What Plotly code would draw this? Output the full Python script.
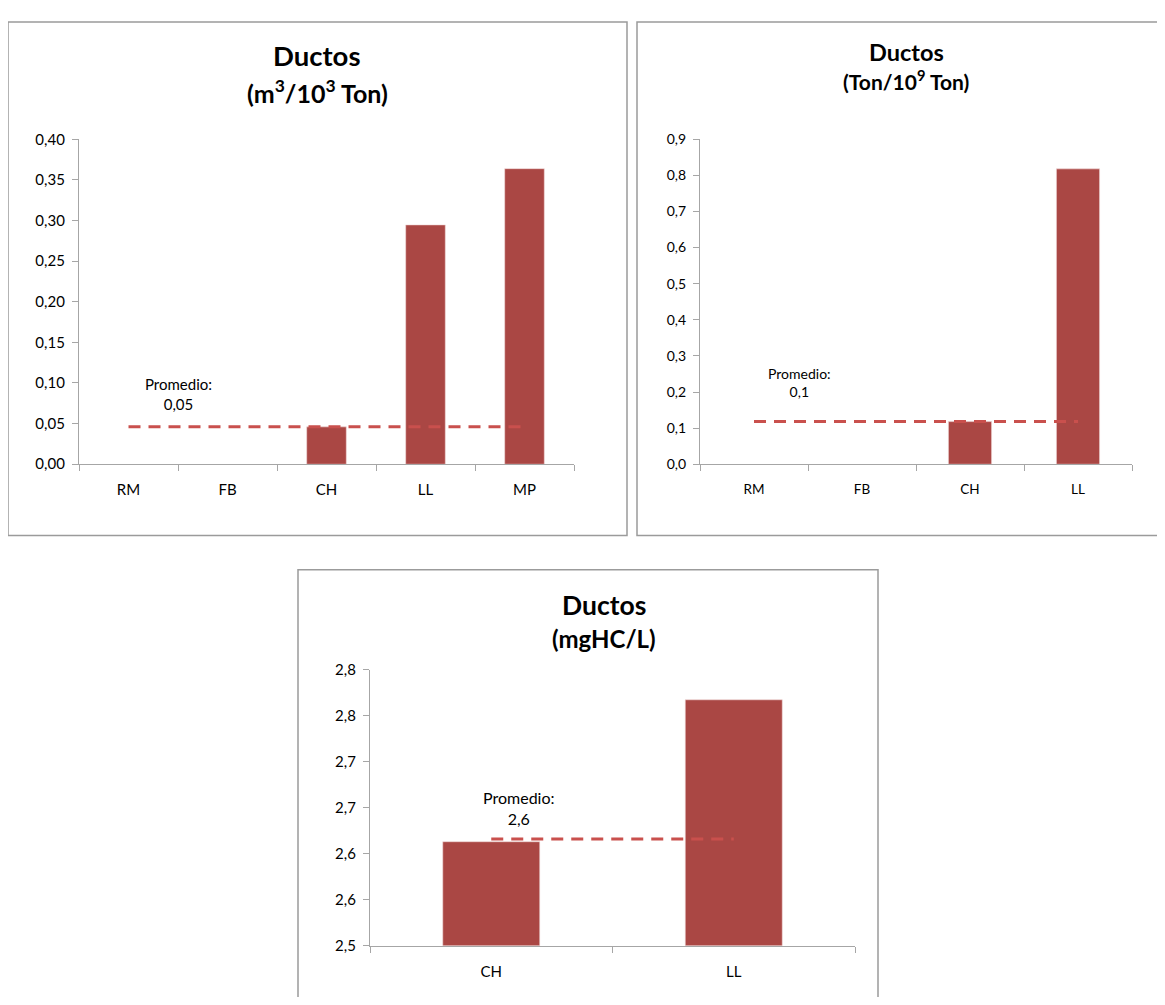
import plotly.graph_objects as go

# ---------------- data ----------------
cats1 = ["RM", "FB", "CH", "LL", "MP"]
vals1 = [None, None, 0.046, 0.2946, 0.3638]
avg1 = 0.046
avg1_label = "0,05"

cats2 = ["RM", "FB", "CH", "LL"]
vals2 = [None, None, 0.118, 0.818]
avg2 = 0.118
avg2_label = "0,1"

cats3 = ["CH", "LL"]
vals3 = [2.613, 2.7675]
avg3 = 2.616
avg3_label = "2,6"
ticks3_vals = [2.50, 2.55, 2.60, 2.65, 2.70, 2.75, 2.80]
ticks3_text = ["2,5", "2,6", "2,6", "2,7", "2,7", "2,8", "2,8"]

title1 = "<b>Ductos</b>"
sub1 = "<b>(m<sup>3</sup>/10<sup>3</sup> Ton)</b>"
title2 = "<b>Ductos</b>"
sub2 = "<b>(Ton/10<sup>9</sup> Ton)</b>"
title3 = "<b>Ductos</b>"
sub3 = "<b>(mgHC/L)</b>"

# ---------------- style ----------------
OFF = 8  # default body margin of the html page
W, H = 1165 - 2 * OFF, 1005 - 2 * OFF
FONT = "Lato"
BAR = "#AA4744"
AVG = "#C9504D"
AX = "#A6A6A6"


def px(x):
    return (x - OFF) / W


def py(y):
    return 1 - (y - OFF) / H


fig = go.Figure()

bar_marker = dict(color=BAR, line=dict(color="#F2DCDB", width=0.6))
avg_line = dict(color=AVG, width=3, dash="12px,8px")

fig.add_trace(go.Bar(x=cats1, y=vals1, marker=bar_marker, xaxis="x", yaxis="y"))
fig.add_trace(go.Scatter(x=[cats1[0], cats1[-1]], y=[avg1, avg1], mode="lines", line=avg_line,
                         xaxis="x", yaxis="y"))
fig.add_trace(go.Bar(x=cats2, y=vals2, marker=bar_marker, xaxis="x2", yaxis="y2"))
fig.add_trace(go.Scatter(x=[cats2[0], cats2[-1]], y=[avg2, avg2], mode="lines", line=avg_line,
                         xaxis="x2", yaxis="y2"))
fig.add_trace(go.Bar(x=cats3, y=vals3, marker=bar_marker, xaxis="x3", yaxis="y3"))
fig.add_trace(go.Scatter(x=[cats3[0], cats3[-1]], y=[avg3, avg3], mode="lines", line=avg_line,
                         xaxis="x3", yaxis="y3"))


def xax(domain, anchor, size):
    return dict(domain=domain, anchor=anchor, type="category", showline=True, linecolor=AX, linewidth=1.3,
                ticks="outside", tickson="boundaries", ticklen=6, tickcolor=AX, showgrid=False,
                tickfont=dict(family=FONT, size=size, color="#000"), ticklabelstandoff=12, fixedrange=True)


def yax(domain, anchor, rng, size, **kw):
    d = dict(domain=domain, anchor=anchor, range=rng, showline=True, linecolor=AX, linewidth=1.3,
             ticks="outside", ticklen=6, tickcolor=AX, showgrid=False, zeroline=False,
             tickfont=dict(family=FONT, size=size, color="#000"), ticklabelstandoff=4, fixedrange=True)
    d.update(kw)
    return d


fig.update_layout(
    width=W, height=H, margin=dict(l=0, r=0, t=0, b=0),
    paper_bgcolor="white", plot_bgcolor="white", separators=",.",
    bargap=0.6, showlegend=False,
    xaxis=xax([px(79), px(574)], "y", 15),
    yaxis=yax([py(462.5), py(131.5)], "x", [0, 0.40], 15, dtick=0.05, tickformat=".2f"),
    xaxis2=xax([px(700), px(1132)], "y2", 13.5),
    yaxis2=yax([py(462.5), py(131.5)], "x2", [0, 0.9], 14, dtick=0.1, tickformat=".1f"),
    xaxis3=xax([px(370), px(855)], "y3", 15),
    yaxis3=yax([py(952.7), py(672)], "x3", [2.5, 2.8], 15, tickvals=ticks3_vals, ticktext=ticks3_text),
)

shapes = []
for (x0, y0, x1, y1) in [(8, 12, 627, 535), (637, 12, 1164, 535), (298, 570, 878, 1010)]:
    shapes.append(dict(type="rect", xref="paper", yref="paper", x0=px(x0), x1=px(x1), y0=py(y1), y1=py(y0),
                       line=dict(color="#9B9B9B", width=1.5), fillcolor="rgba(0,0,0,0)", layer="below"))
fig.update_layout(shapes=shapes)


def title_ann(text, x, y, size):
    return dict(text=text, x=px(x), y=py(y), xref="paper", yref="paper", showarrow=False,
                xanchor="center", yanchor="middle", font=dict(family=FONT, size=size, color="#000"))


ann = [
    title_ann(title1, 317, 46, 27.5),
    title_ann(sub1, 317, 83, 25),
    title_ann(title2, 906, 43, 23.5),
    title_ann(sub2, 906, 71, 21),
    title_ann(title3, 604, 606, 26.5),
    title_ann(sub3, 604, 640, 24),
    dict(text="Promedio:<br>" + avg1_label, x=0.5, y=0.087, xref="x", yref="y", showarrow=False,
         font=dict(family=FONT, size=15, color="#000")),
    dict(text="Promedio:<br>" + avg2_label, x=0.42, y=0.227, xref="x2", yref="y2", showarrow=False,
         font=dict(family=FONT, size=14, color="#000")),
    dict(text="Promedio:<br>" + avg3_label, x=0.115, y=2.65, xref="x3", yref="y3", showarrow=False,
         font=dict(family=FONT, size=16, color="#000")),
]
fig.update_layout(annotations=ann)

fig.write_html("out.html")
